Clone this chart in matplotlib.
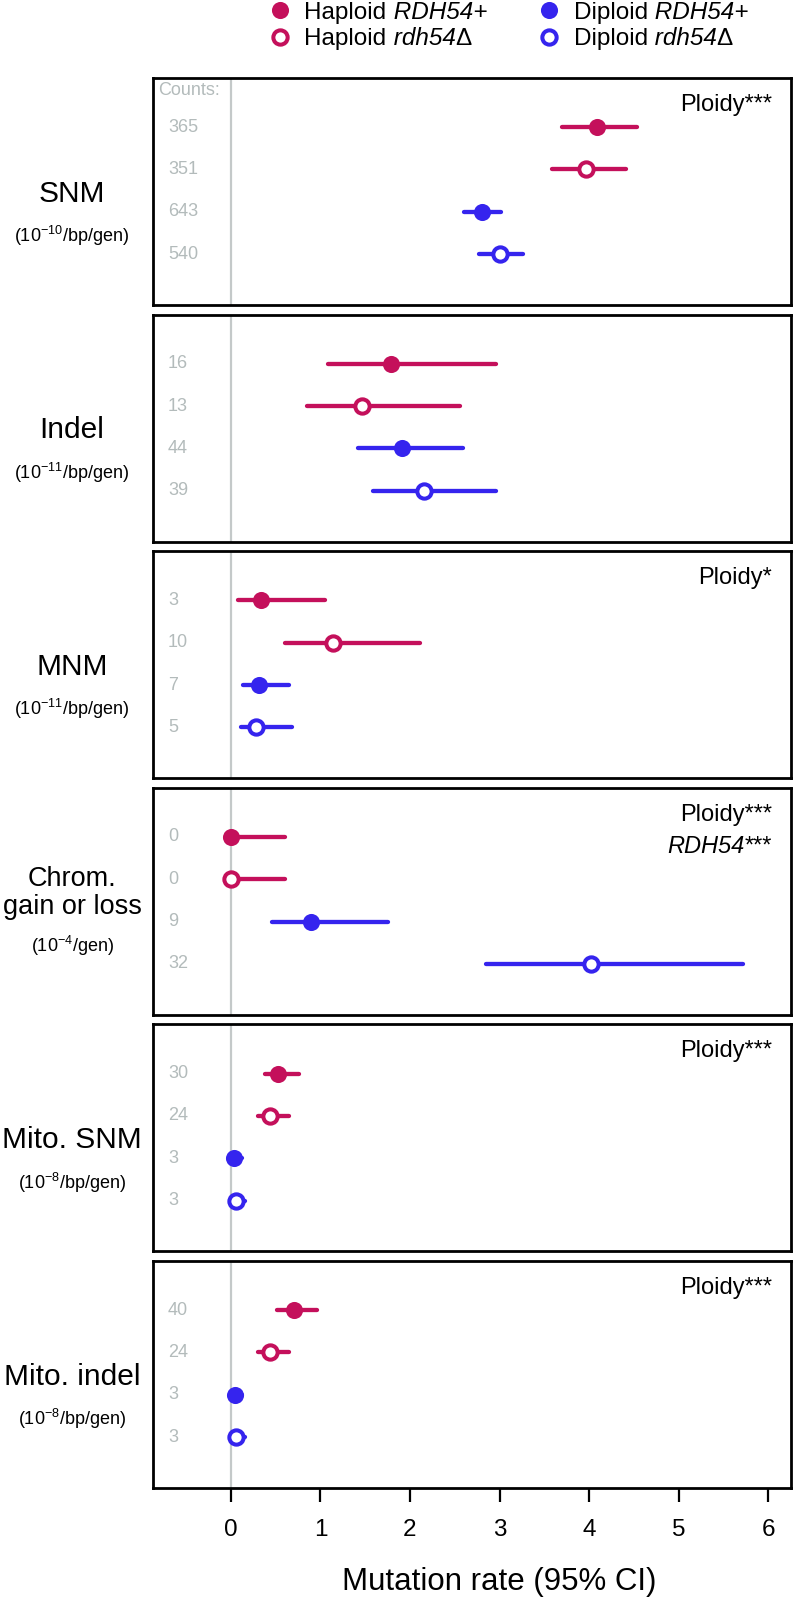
import matplotlib
matplotlib.use("Agg")
import matplotlib.pyplot as plt
from matplotlib.lines import Line2D
from matplotlib.text import Annotation

plt.rcParams['font.family'] = ['Liberation Sans', 'DejaVu Sans']
plt.rcParams['mathtext.fontset'] = 'custom'
plt.rcParams['mathtext.rm'] = 'Liberation Sans'
plt.rcParams['mathtext.it'] = 'Liberation Sans:italic'

# panels, top to bottom
categories = ["SNM", "Indel", "MNM", "Chrom.\ngain or loss", "Mito. SNM", "Mito. indel"]
units = [r"(10$^{-10}$/bp/gen)", r"(10$^{-11}$/bp/gen)", r"(10$^{-11}$/bp/gen)",
         r"(10$^{-4}$/gen)", r"(10$^{-8}$/bp/gen)", r"(10$^{-8}$/bp/gen)"]
ploidy_tests = ["Ploidy***", "", "Ploidy*", "Ploidy***", "Ploidy***", "Ploidy***"]
rdh54_tests = ["", "", "", "***", "", ""]

# genotypes within each panel: Haploid RDH54+, Haploid rdh54D, Diploid RDH54+, Diploid rdh54D
ploidy_names = ["Haploid", "Haploid", "Diploid", "Diploid"]
allele_names = ["RDH54+", "rdh54", "RDH54+", "rdh54"]
allele_suffix = ["", "\u0394", "", "\u0394"]
counts = [[365, 351, 643, 540],
          [16, 13, 44, 39],
          [3, 10, 7, 5],
          [0, 0, 9, 32],
          [30, 24, 3, 3],
          [40, 24, 3, 3]]
rates = [[4.09, 3.965, 2.80, 3.00],
         [1.79, 1.46, 1.91, 2.16],
         [0.34, 1.14, 0.31, 0.28],
         [0.0, 0.0, 0.90, 4.02],
         [0.53, 0.44, 0.04, 0.055],
         [0.705, 0.44, 0.045, 0.055]]
ci_low = [[3.70, 3.58, 2.60, 2.77],
          [1.09, 0.85, 1.42, 1.59],
          [0.08, 0.60, 0.14, 0.11],
          [0.0, 0.0, 0.46, 2.85],
          [0.38, 0.30, 0.01, 0.015],
          [0.52, 0.30, 0.01, 0.015]]
ci_high = [[4.53, 4.41, 3.02, 3.26],
           [2.96, 2.56, 2.59, 2.96],
           [1.05, 2.11, 0.65, 0.68],
           [0.60, 0.60, 1.76, 5.72],
           [0.76, 0.65, 0.125, 0.155],
           [0.96, 0.65, 0.125, 0.16]]

red = '#C4105B'
blue = '#3524EE'
gray = '#B3BBBB'
colors = [red, red, blue, blue]
filled = [True, False, True, False]

W, H = 793, 1599
fig = plt.figure(figsize=(W / 100, H / 100), dpi=100)

left_px, right_px = 153, 791
top_px, panel_h, step = 78, 227, 236.6
rows = [1, 2, 3, 4]
label_x = (72 - left_px) / (right_px - left_px)

axes = []
for i, cat in enumerate(categories):
    top = top_px + i * step
    ax = fig.add_axes([left_px / W, 1 - (top + panel_h) / H,
                       (right_px - left_px) / W, panel_h / H])
    axes.append(ax)
    ax.set_xlim(-0.868, 6.252)
    ax.set_ylim(5.2, -0.16)
    ax.axvline(0, color='#C4C9C9', lw=1.6, zorder=1)
    for sp in ax.spines.values():
        sp.set_linewidth(2.0)
    ax.set_yticks([])

    for j, y in enumerate(rows):
        c = colors[j]
        ax.plot([ci_low[i][j], ci_high[i][j]], [y, y], color=c, lw=3.1,
                solid_capstyle='round', zorder=2)
        if filled[j]:
            ax.plot(rates[i][j], y, 'o', ms=12.3, mfc=c, mec=c, mew=0, zorder=3)
        else:
            ax.plot(rates[i][j], y, 'o', ms=10.3, mfc='white', mec=c, mew=2.9, zorder=3)
        ax.text(-0.70, y, str(counts[i][j]), ha='left', va='center',
                color=gray, fontsize=13)

    if i == 0:
        ax.text(-0.812, 0.14, "Counts:", ha='left', va='center', color=gray, fontsize=13)

    if ploidy_tests[i]:
        ax.text(0.970, 1 - 27 / panel_h, ploidy_tests[i], transform=ax.transAxes,
                ha='right', va='center', fontsize=17)
    if rdh54_tests[i]:
        stars = ax.text(0.970, 1 - 59 / panel_h, rdh54_tests[i], transform=ax.transAxes,
                        ha='right', va='center', fontsize=17)
        ax.annotate("RDH54", xy=(0, 0.5), xycoords=stars, ha='right', va='center',
                    fontsize=17, style='italic')

    # row label on the left
    if "\n" in cat:
        ax.text(label_x, 0.537, cat, transform=ax.transAxes, ha='center', va='center',
                fontsize=19.5, linespacing=1.1)
    else:
        ax.text(label_x, 0.490, cat, transform=ax.transAxes, ha='center', va='center',
                fontsize=21.5)
    ax.text(label_x, 0.303, units[i], transform=ax.transAxes, ha='center', va='center',
            fontsize=13)

    if i < len(categories) - 1:
        ax.set_xticks([])
    else:
        ax.set_xticks(range(0, 7))
        ax.tick_params(axis='x', length=10, width=1.6, pad=12, labelsize=17.5)
        ax.set_xlabel("Mutation rate (95% CI)", fontsize=22.5)
        ax.xaxis.set_label_coords((3 + 0.868) / (6.252 + 0.868), -(1582 - 1488) / panel_h)
        ax.xaxis.label.set_va('center')

handles = []
for j in range(4):
    if filled[j]:
        h = Line2D([], [], ls='none', marker='o', ms=12.3, mfc=colors[j], mec=colors[j], mew=0)
    else:
        h = Line2D([], [], ls='none', marker='o', ms=10.3, mfc='white', mec=colors[j], mew=2.9)
    handles.append(h)

leg = fig.legend(handles, ploidy_names, ncol=2, frameon=False, fontsize=17.5,
                 loc='upper left', bbox_to_anchor=(268 / W, 1 - 1.5 / H),
                 handlelength=1.0, handletextpad=0.5, columnspacing=6.2,
                 labelspacing=0.2, borderpad=0.0, borderaxespad=0.0)

# italic allele names appended to each legend entry
for j, t in enumerate(leg.get_texts()):
    a = Annotation(" " + allele_names[j], xy=(1, 0), xycoords=t, ha='left', va='bottom',
                   fontsize=17.5, style='italic', zorder=6)
    fig.add_artist(a)
    if allele_suffix[j]:
        b = Annotation(allele_suffix[j], xy=(1, 0), xycoords=a, ha='left', va='bottom',
                       fontsize=17.5, zorder=7)
        fig.add_artist(b)

fig.savefig("out.png", dpi=100)
